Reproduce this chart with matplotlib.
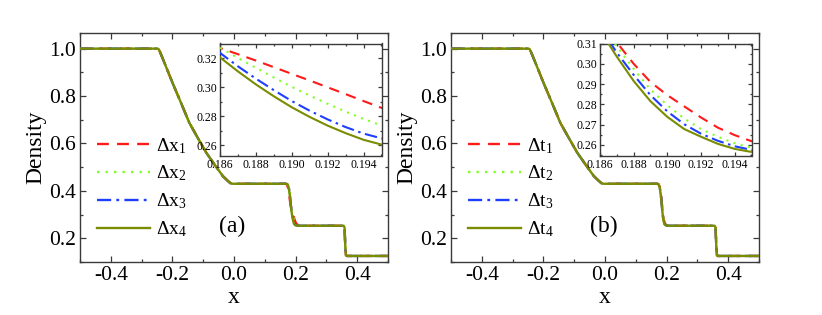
import matplotlib
matplotlib.use('Agg')
import matplotlib.pyplot as plt
from matplotlib.ticker import MultipleLocator, FormatStrFormatter

plt.rcParams['font.family'] = ['Liberation Serif', 'DejaVu Serif']
plt.rcParams['mathtext.fontset'] = 'custom'
plt.rcParams['mathtext.rm'] = 'Liberation Serif'
plt.rcParams['mathtext.it'] = 'Liberation Serif'
plt.rcParams['axes.unicode_minus'] = False

# ---------------- data ----------------
# shared part: left state, rarefaction, left plateau
x_rare = [-0.5, -0.248, -0.244, -0.240, -0.232, -0.200, -0.170, -0.145, -0.120,
          -0.090, -0.060, -0.036, -0.020, -0.012, -0.005, 0.165]
rho_rare = [1.0, 1.0, 0.997, 0.985, 0.960, 0.857, 0.765, 0.687, 0.629,
            0.561, 0.505, 0.462, 0.442, 0.433, 0.430, 0.430]

# contact region (series-specific)
x_cont = [0.170, 0.174, 0.178, 0.182, 0.184, 0.186, 0.187, 0.188, 0.189, 0.190,
          0.191, 0.192, 0.193, 0.194, 0.195, 0.198, 0.202, 0.210]

rho_dx1 = [0.429, 0.420, 0.398, 0.355, 0.338, 0.3272, 0.3229, 0.3185, 0.3139, 0.3093,
           0.3047, 0.3000, 0.2953, 0.2905, 0.2858, 0.2740, 0.2620, 0.2540]
rho_dx2 = [0.430, 0.427, 0.414, 0.380, 0.353, 0.3275, 0.3203, 0.3135, 0.3068, 0.3003,
           0.2943, 0.2886, 0.2832, 0.2781, 0.2736, 0.2630, 0.2570, 0.2535]
rho_dx3 = [0.430, 0.428, 0.413, 0.376, 0.349, 0.3238, 0.3145, 0.3060, 0.2980, 0.2905,
           0.2838, 0.2778, 0.2725, 0.2680, 0.2647, 0.2580, 0.2548, 0.2530]
rho_dx4 = [0.430, 0.428, 0.412, 0.372, 0.345, 0.3207, 0.3110, 0.3020, 0.2938, 0.2862,
           0.2795, 0.2735, 0.2683, 0.2637, 0.2604, 0.2560, 0.2540, 0.2530]

rho_dt1 = [0.430, 0.428, 0.416, 0.383, 0.357, 0.3280, 0.3105, 0.3000, 0.2910, 0.2845,
           0.2790, 0.2735, 0.2685, 0.2648, 0.2618, 0.2570, 0.2545, 0.2530]
rho_dt2 = [0.430, 0.428, 0.414, 0.377, 0.350, 0.3215, 0.3085, 0.2975, 0.2873, 0.2795,
           0.2730, 0.2678, 0.2640, 0.2608, 0.2585, 0.2555, 0.2540, 0.2530]
rho_dt3 = [0.430, 0.428, 0.413, 0.374, 0.346, 0.3180, 0.3055, 0.2945, 0.2845, 0.2765,
           0.2702, 0.2655, 0.2620, 0.2593, 0.2575, 0.2550, 0.2537, 0.2530]
rho_dt4 = [0.430, 0.428, 0.412, 0.372, 0.344, 0.3165, 0.3035, 0.2915, 0.2815, 0.2738,
           0.2678, 0.2640, 0.2605, 0.2580, 0.2565, 0.2545, 0.2535, 0.2530]

# shared part: right plateau, shock, right state
x_shock = [0.220, 0.356, 0.359, 0.3615, 0.3635, 0.366, 0.5]
rho_shock = [0.253, 0.253, 0.245, 0.160, 0.128, 0.1255, 0.1255]

labels_dx = [r'$\Delta$x$_{1}$', r'$\Delta$x$_{2}$', r'$\Delta$x$_{3}$', r'$\Delta$x$_{4}$']
labels_dt = [r'$\Delta$t$_{1}$', r'$\Delta$t$_{2}$', r'$\Delta$t$_{3}$', r'$\Delta$t$_{4}$']
panel_tags = ['(a)', '(b)']

# ---------------- styles ----------------
colors = ['#ff1a1a', '#80ff20', '#1f3fff', '#7a8c00']
styles = [(0, (5, 3.5)), (0, (1, 2.6)), (0, (6, 2.2, 1.2, 2.2)), '-']
spine_col = '#3a3a3a'

fig = plt.figure(figsize=(8.22, 3.15), dpi=100)
W, H = 822, 315


def fig_rect(x0, x1, y0, y1):
    return [x0 / W, 1 - y1 / H, (x1 - x0) / W, (y1 - y0) / H]


def style_axes(ax, fs, maj, minr):
    for s in ax.spines.values():
        s.set_color(spine_col)
        s.set_linewidth(1.0)
    ax.tick_params(which='both', direction='in', top=True, right=True,
                   colors=spine_col, labelcolor='black', width=0.9)
    ax.tick_params(which='major', length=maj, labelsize=fs, pad=3)
    ax.tick_params(which='minor', length=minr)


main_rects = [fig_rect(80, 388, 33, 262), fig_rect(451, 759, 33, 262)]
inset_rects = [fig_rect(220, 381.5, 43.5, 156), fig_rect(600, 751.5, 43.5, 156)]
series_sets = [[rho_dx1, rho_dx2, rho_dx3, rho_dx4], [rho_dt1, rho_dt2, rho_dt3, rho_dt4]]
label_sets = [labels_dx, labels_dt]
inset_ylims = [(0.2525, 0.3303), (0.2545, 0.310)]
inset_ymaj = [0.02, 0.01]

for p in range(2):
    ax = fig.add_axes(main_rects[p])
    for i, rho_c in enumerate(series_sets[p]):
        xs = x_rare + x_cont + x_shock
        ys = rho_rare + rho_c + rho_shock
        ax.plot(xs, ys, color=colors[i], linestyle=styles[i], lw=1.7,
                label=label_sets[p][i], zorder=2 + i)
    ax.set_xlim(-0.5, 0.5)
    ax.set_ylim(0.1, 1.066)
    ax.xaxis.set_major_locator(MultipleLocator(0.2))
    ax.xaxis.set_minor_locator(MultipleLocator(0.1))
    ax.yaxis.set_major_locator(MultipleLocator(0.2))
    ax.yaxis.set_minor_locator(MultipleLocator(0.1))
    ax.xaxis.set_major_formatter(FormatStrFormatter('%.1f'))
    ax.yaxis.set_major_formatter(FormatStrFormatter('%.1f'))
    style_axes(ax, 15.5, 4, 2.2)
    ax.set_xlabel('x', fontsize=17, labelpad=1)
    ax.set_ylabel('Density', fontsize=17, labelpad=2)
    ax.text(-0.005, 0.25, panel_tags[p], fontsize=17, ha='center', va='center')
    ax.legend(loc='upper left', bbox_to_anchor=(0.03, 0.585), frameon=False,
              fontsize=14, handlelength=2.75, handletextpad=0.3,
              labelspacing=0.42, borderaxespad=0)

    ins = fig.add_axes(inset_rects[p])
    for i, rho_c in enumerate(series_sets[p]):
        ins.plot(x_cont, rho_c, color=colors[i], linestyle=styles[i], lw=1.5,
                 zorder=2 + i)
    ins.set_xlim(0.186, 0.195)
    ins.set_ylim(*inset_ylims[p])
    ins.xaxis.set_major_locator(MultipleLocator(0.002))
    ins.xaxis.set_minor_locator(MultipleLocator(0.001))
    ins.yaxis.set_major_locator(MultipleLocator(inset_ymaj[p]))
    ins.yaxis.set_minor_locator(MultipleLocator(inset_ymaj[p] / 2))
    ins.xaxis.set_major_formatter(FormatStrFormatter('%.3f'))
    ins.yaxis.set_major_formatter(FormatStrFormatter('%.2f'))
    style_axes(ins, 8.5, 3, 1.6)
    ins.tick_params(which='major', pad=2)
    ins.set_facecolor('white')

fig.savefig('out.png', dpi=100)
